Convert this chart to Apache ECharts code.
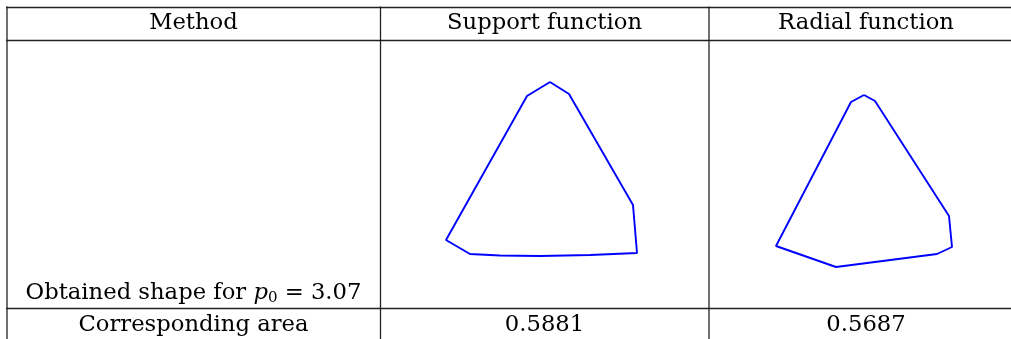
<!DOCTYPE html>
<html>
<head>
<meta charset="utf-8">
<script src="https://cdn.jsdelivr.net/npm/echarts@6/dist/echarts.min.js"></script>
<style>html,body{margin:0;padding:0;background:#fff}#c{width:1011px;height:339px}</style>
</head>
<body>
<div id="c"></div>
<script>
// Table text
var headers = ['Method', 'Support function', 'Radial function'];
var rowLabelShape = 'Obtained shape for';
var p0Value = '3.07';
var rowLabelArea = 'Corresponding area';
var areas = ['0.5881', '0.5687'];

// Shape outlines (x, y) in shape units, closed polygons
var supportShape = [
  [0.09, 0.88], [0.28, 0.76], [0.92, -0.35], [0.96, -0.83],
  [0.49, -0.85], [-0.01, -0.86], [-0.41, -0.855], [-0.71, -0.84],
  [-0.95, -0.70], [-0.14, 0.74], [0.09, 0.88]
];
var radialShape = [
  [0.01, 0.85], [0.12, 0.79], [0.86, -0.36], [0.89, -0.67], [0.74, -0.74],
  [-0.27, -0.87], [-0.87, -0.66], [-0.12, 0.78], [0.01, 0.85]
];

var chart = echarts.init(document.getElementById('c'), null, {renderer: 'canvas'});
var font = '"DejaVu Serif", "Liberation Serif", serif';
var fs = 22.7;
var lineColor = '#222';
function hline(y) { return {type: 'line', shape: {x1: 6, y1: y, x2: 1011, y2: y}, style: {stroke: lineColor, lineWidth: 1.3}}; }
function vline(x) { return {type: 'line', shape: {x1: x, y1: 6.5, x2: x, y2: 339}, style: {stroke: lineColor, lineWidth: 1.3}}; }
function txt(s, x, y) { return {type: 'text', x: x, y: y, style: {text: s, font: fs + 'px ' + font, fill: '#000', textAlign: 'center', textVerticalAlign: 'middle'}}; }

function ax(min, max) { return {type: 'value', min: min, max: max, show: false}; }

chart.setOption({
  animation: false,
  grid: [
    {left: 421, top: 50, width: 240, height: 240},
    {left: 743, top: 60, width: 240, height: 240}
  ],
  xAxis: [Object.assign({gridIndex: 0}, ax(-1.2, 1.2)), Object.assign({gridIndex: 1}, ax(-1.2, 1.2))],
  yAxis: [Object.assign({gridIndex: 0}, ax(-1.2, 1.2)), Object.assign({gridIndex: 1}, ax(-1.2, 1.2))],
  series: [
    {type: 'line', xAxisIndex: 0, yAxisIndex: 0, data: supportShape, showSymbol: false, symbol: 'none',
     lineStyle: {color: '#0000ff', width: 1.9}, smooth: false},
    {type: 'line', xAxisIndex: 1, yAxisIndex: 1, data: radialShape, showSymbol: false, symbol: 'none',
     lineStyle: {color: '#0000ff', width: 1.9}, smooth: false}
  ],
  graphic: [
    hline(7.5), hline(40.5), hline(308.5),
    vline(7), vline(380.5), vline(709),
    txt(headers[0], 193.5, 23), txt(headers[1], 544.5, 23), txt(headers[2], 866, 23),
    {type: 'text', x: 193.5, y: 293, style: {
      text: rowLabelShape + ' {i|p}{s|0} = ' + p0Value,
      font: fs + 'px ' + font, fill: '#000', textAlign: 'center', textVerticalAlign: 'middle',
      rich: {i: {fontStyle: 'italic', fontFamily: font, fontSize: fs}, s: {fontFamily: font, fontSize: 15, padding: [11, 0, 0, 0]}}
    }},
    txt(rowLabelArea, 193.5, 325), txt(areas[0], 544.5, 325), txt(areas[1], 866, 325)
  ]
});
</script>
</body>
</html>
